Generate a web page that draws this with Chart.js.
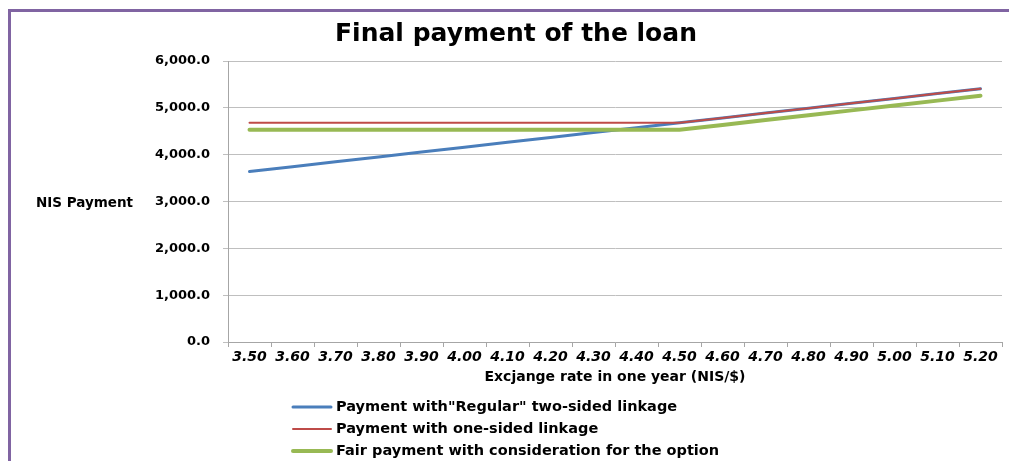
<!DOCTYPE html>
<html>
<head>
<meta charset="utf-8">
<script src="https://cdn.jsdelivr.net/npm/chart.js@4/dist/chart.umd.min.js"></script>
<style>
  html, body { margin: 0; padding: 0; background: #fff; }
  #wrap { position: relative; width: 1009px; height: 461px; overflow: hidden; }
  #frame { position: absolute; left: 8px; top: 9px; right: -10px; bottom: -10px;
           border-top: 3px solid #8064A2; border-left: 3px solid #8064A2; }
  canvas { position: absolute; left: 0; top: 0; }
</style>
</head>
<body>
<div id="wrap">
  <div id="frame"></div>
  <canvas id="chart" width="1009" height="461"></canvas>
</div>
<script>
// exchange rate in one year (NIS/$)
const rates = ['3.50', '3.60', '3.70', '3.80', '3.90', '4.00', '4.10', '4.20', '4.30',
  '4.40', '4.50', '4.60', '4.70', '4.80', '4.90', '5.00', '5.10', '5.20'];

const regularPayment = [3640, 3744, 3848, 3952, 4056, 4160, 4264, 4368, 4472,
  4576, 4680, 4784, 4888, 4992, 5096, 5200, 5304, 5408];
const oneSidedPayment = [4680, 4680, 4680, 4680, 4680, 4680, 4680, 4680, 4680,
  4680, 4680, 4784, 4888, 4992, 5096, 5200, 5304, 5408];
const fairPayment = [4530, 4530, 4530, 4530, 4530, 4530, 4530, 4530, 4530,
  4530, 4530, 4634, 4738, 4842, 4946, 5050, 5154, 5258];

const yTicks = [0, 1000, 2000, 3000, 4000, 5000, 6000];

const FONT = "'DejaVu Sans', Verdana, sans-serif";

// title, axis titles and the vertical legend, drawn by hand
const extras = {
  id: 'extras',
  afterDraw(chart) {
    const ctx = chart.ctx;
    ctx.save();
    ctx.fillStyle = '#000';
    ctx.textBaseline = 'middle';

    ctx.font = `bold 25px ${FONT}`;
    ctx.textAlign = 'center';
    ctx.fillText('Final payment of the loan', 516, 34);

    ctx.font = `bold 13.5px ${FONT}`;
    ctx.textAlign = 'left';
    ctx.fillText('NIS Payment', 36, 203);

    ctx.font = `bold 14px ${FONT}`;
    ctx.textAlign = 'center';
    ctx.fillText('Excjange rate in one year (NIS/$)', 615, 377);

    ctx.textAlign = 'left';
    ctx.font = `bold 14.5px ${FONT}`;
    chart.data.datasets.forEach((ds, i) => {
      const y = 407 + i * 22;
      ctx.strokeStyle = ds.borderColor;
      ctx.lineWidth = ds.borderWidth;
      ctx.lineCap = 'round';
      ctx.beginPath();
      ctx.moveTo(293, y);
      ctx.lineTo(331, y);
      ctx.stroke();
      ctx.fillText(ds.label, 336, y);
    });
    ctx.restore();
  }
};

new Chart(document.getElementById('chart'), {
  type: 'line',
  data: {
    labels: rates,
    datasets: [
      {
        label: 'Payment with"Regular" two-sided linkage',
        data: regularPayment,
        borderColor: '#4A7EBB',
        borderWidth: 3,
        order: 2
      },
      {
        label: 'Payment with one-sided linkage',
        data: oneSidedPayment,
        borderColor: '#BE4B48',
        borderWidth: 2,
        order: 1
      },
      {
        label: 'Fair payment with consideration for the option',
        data: fairPayment,
        borderColor: '#98B954',
        borderWidth: 4,
        order: 0
      }
    ]
  },
  options: {
    responsive: false,
    animation: false,
    devicePixelRatio: 1,
    elements: {
      point: { radius: 0 },
      line: { tension: 0, borderCapStyle: 'round' }
    },
    layout: { padding: { top: 61, right: 7, left: 0, bottom: 0 } },
    plugins: {
      legend: { display: false },
      tooltip: { enabled: false },
      title: { display: false }
    },
    scales: {
      x: {
        offset: true,
        afterFit: (s) => { s.height = 119; },
        grid: {
          offset: true,
          drawOnChartArea: false,
          drawTicks: true,
          tickLength: 5,
          color: '#A6A6A6'
        },
        border: { color: '#A6A6A6' },
        ticks: {
          autoSkip: false,
          maxRotation: 0,
          padding: 2,
          color: '#000',
          font: { family: FONT, size: 14, weight: 'bold', style: 'italic' }
        }
      },
      y: {
        min: 0,
        max: 6000,
        afterFit: (s) => { s.width = 228; },
        afterBuildTicks: (s) => { s.ticks = yTicks.map(v => ({ value: v })); },
        grid: { color: '#BFBFBF', tickLength: 5 },
        border: { color: '#A6A6A6' },
        ticks: {
          padding: 13,
          color: '#000',
          font: { family: FONT, size: 13, weight: 'bold' },
          callback: (v) => v.toLocaleString('en-US', { minimumFractionDigits: 1, maximumFractionDigits: 1 })
        }
      }
    }
  },
  plugins: [extras]
});
</script>
</body>
</html>
